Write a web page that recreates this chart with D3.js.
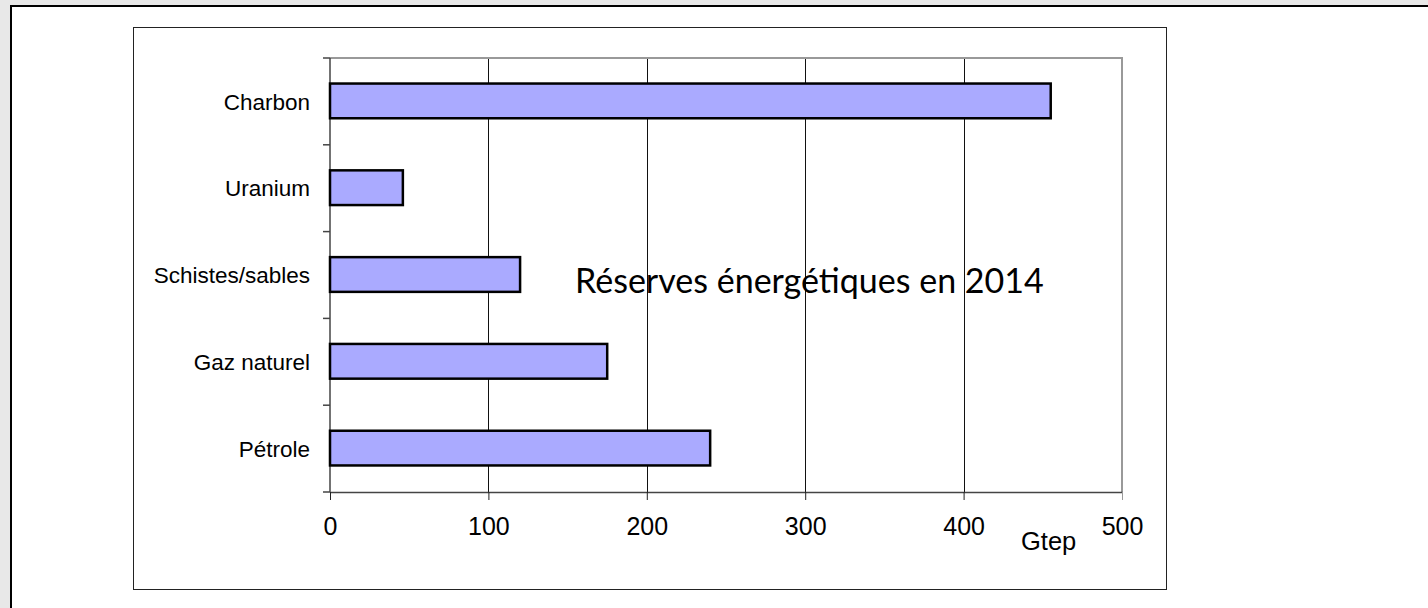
<html>
<meta charset="utf-8" />
<head>
<title>Réserves énergétiques en 2014</title>
<style>
body {
  margin: 0;
  background: #e8e8e8;
}
svg {
  display: block;
}
svg text {
  font-family: "Liberation Sans", Arial, sans-serif;
  fill: black;
}
</style>
<script src="https://d3js.org/d3.v7.min.js" charset="utf-8"></script>
</head>
<body>
<svg class="chart"></svg>
<script>

/*********************
 * Chart data        *
 *********************/
var categories = ["Charbon", "Uranium", "Schistes/sables", "Gaz naturel", "Pétrole"];
var values = [455, 46, 120, 175, 240];     // Gtep
var x_ticks = [0, 100, 200, 300, 400, 500];
var grid_ticks = [100, 200, 300, 400];
var chart_title = "Réserves énergétiques en 2014";
var unit_label = "Gtep";

var width = 1428;
var height = 608;

var canvas = d3.select(".chart")
    .attr("width", width)
    .attr("height", height);

// outer page frame (runs off the right and bottom of the window)
canvas.append("rect")
    .attr("x", 11)
    .attr("y", 6)
    .attr("width", width)
    .attr("height", height)
    .attr("fill", "white")
    .attr("stroke", "black")
    .attr("stroke-width", 2);

// chart box
canvas.append("rect")
    .attr("x", 133.5)
    .attr("y", 27.5)
    .attr("width", 1033)
    .attr("height", 562)
    .attr("fill", "white")
    .attr("stroke", "#222")
    .attr("stroke-width", 1);

// scales
var x = d3.scaleLinear()
    .domain([0, 500])
    .range([330, 1122]);

var y = d3.scaleBand()
    .domain(categories)
    .range([58, 492])
    .padding(0);

var data = categories.map(function(c, i) { return { name: c, value: values[i] }; });

// vertical gridlines
canvas.append("g")
    .selectAll("line")
    .data(grid_ticks)
    .enter()
    .append("line")
    .attr("x1", function(d) { return Math.round(x(d)) + 0.5; })
    .attr("x2", function(d) { return Math.round(x(d)) + 0.5; })
    .attr("y1", y.range()[0])
    .attr("y2", y.range()[1])
    .attr("stroke", "#111")
    .attr("stroke-width", 1);

// plot frame: top and right in grey
canvas.append("path")
    .attr("d", "M" + x.range()[0] + "," + (y.range()[0]) +
               "H" + x.range()[1] + "V" + y.range()[1])
    .attr("fill", "none")
    .attr("stroke", "#999")
    .attr("stroke-width", 2);

// x axis
var x_axis = d3.axisBottom(x)
    .tickValues(x_ticks)
    .tickSize(8)
    .tickSizeOuter(0)
    .tickPadding(17);

var x_axis_group = canvas.append("g")
    .attr("transform", "translate(0," + y.range()[1] + ")")
    .call(x_axis);

x_axis_group.select(".domain")
    .attr("stroke", "#444")
    .attr("stroke-width", 1.5);
x_axis_group.selectAll(".tick line")
    .attr("stroke", function(d) { return d === 500 ? "#999" : "#222"; });
x_axis_group.selectAll(".tick text")
    .attr("font-size", 25)
    .attr("font-family", "Liberation Sans, Arial, sans-serif")
    .attr("fill", "black");

// y axis line and ticks at the category boundaries
var bounds = categories.map(function(c) { return y(c); }).concat([y.range()[1]]);

canvas.append("line")
    .attr("x1", x.range()[0])
    .attr("x2", x.range()[0])
    .attr("y1", y.range()[0])
    .attr("y2", y.range()[1])
    .attr("stroke", "#444")
    .attr("stroke-width", 1.5);

canvas.append("g")
    .selectAll("line")
    .data(bounds)
    .enter()
    .append("line")
    .attr("x1", x.range()[0] - 7)
    .attr("x2", x.range()[0])
    .attr("y1", function(d) { return d; })
    .attr("y2", function(d) { return d; })
    .attr("stroke", "#444")
    .attr("stroke-width", 1.5);

// category labels
canvas.append("g")
    .selectAll("text")
    .data(categories)
    .enter()
    .append("text")
    .attr("x", 310)
    .attr("y", function(d) { return y(d) + y.bandwidth() / 2; })
    .attr("dy", "0.36em")
    .attr("font-size", 22.5)
    .style("text-anchor", "end")
    .text(function(d) { return d; });

// bars
var bar_h = y.bandwidth() * 0.4;
canvas.append("g")
    .selectAll("rect")
    .data(data)
    .enter()
    .append("rect")
    .attr("x", x(0))
    .attr("y", function(d) { return y(d.name) + (y.bandwidth() - bar_h) / 2 - 0.5; })
    .attr("width", function(d) { return x(d.value) - x(0); })
    .attr("height", bar_h)
    .attr("fill", "#aaaaff")
    .attr("stroke", "black")
    .attr("stroke-width", 2.5);

// unit label
canvas.append("text")
    .attr("x", 1021)
    .attr("y", 550)
    .attr("font-size", 25.5)
    .text(unit_label);

// title, fitted to the reference width
var title = canvas.append("text")
    .attr("x", 575)
    .attr("y", 293)
    .attr("font-size", 32)
    .style("font-family", "Lato, 'Open Sans', sans-serif")
    .text(chart_title);

var w = title.node().getComputedTextLength();
title.attr("font-size", 32 * 469 / w);

</script>
</body>
</html>
